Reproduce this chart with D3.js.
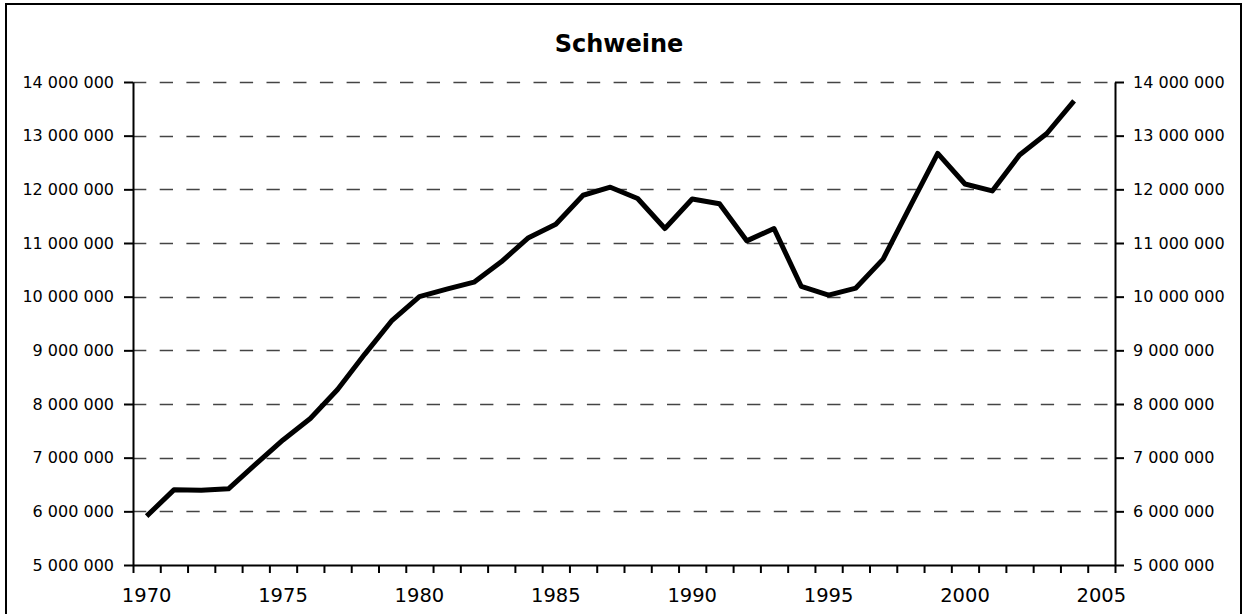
<!DOCTYPE html>
<html>
<head>
<meta charset="utf-8">
<script src="https://cdn.jsdelivr.net/npm/d3@7"></script>
<style>
  html, body { margin: 0; padding: 0; background: #fff; }
  svg { display: block; font-family: "DejaVu Sans", sans-serif; }
</style>
</head>
<body>
<div id="chart"></div>
<script>
// categories on the x axis (one band per year, last one has no value)
const years = [1970, 1971, 1972, 1973, 1974, 1975, 1976, 1977, 1978, 1979,
               1980, 1981, 1982, 1983, 1984, 1985, 1986, 1987, 1988, 1989,
               1990, 1991, 1992, 1993, 1994, 1995, 1996, 1997, 1998, 1999,
               2000, 2001, 2002, 2003, 2004, 2005];

// Schweine, values (1970-2004)
const pigs = [5910000, 6400000, 6395000, 6420000, 6880000, 7330000, 7730000, 8270000, 8930000, 9560000,
              10000000, 10140000, 10270000, 10650000, 11100000, 11350000, 11890000, 12040000, 11830000, 11270000,
              11820000, 11730000, 11040000, 11270000, 10190000, 10030000, 10160000, 10700000, 11690000, 12670000,
              12100000, 11970000, 12640000, 13040000, 13650000];

const yTicks = [5000000, 6000000, 7000000, 8000000, 9000000, 10000000, 11000000, 12000000, 13000000, 14000000];
const xLabels = [1970, 1975, 1980, 1985, 1990, 1995, 2000, 2005];

const width = 1247, height = 614;
const plot = { left: 133, right: 1115, top: 82, bottom: 565 };

const svg = d3.select('#chart').append('svg')
    .attr('width', width)
    .attr('height', height);

// outer frame
svg.append('rect')
    .attr('x', 6).attr('y', 4)
    .attr('width', 1235).attr('height', 640)
    .attr('fill', '#fff')
    .attr('stroke', '#000')
    .attr('stroke-width', 2);

svg.append('text')
    .attr('x', 619).attr('y', 52)
    .attr('text-anchor', 'middle')
    .attr('font-size', 24)
    .attr('font-weight', 'bold')
    .text('Schweine');

const x = d3.scaleBand().domain(years).range([plot.left, plot.right]).padding(0);
const xEdge = d3.scaleLinear().domain([0, years.length]).range([plot.left, plot.right]);
const y = d3.scaleLinear().domain([5000000, 14000000]).range([plot.bottom, plot.top]);

const locale = d3.formatLocale({ decimal: ',', thousands: ' ', grouping: [3], currency: ['', ''] });
const fmt = locale.format(',d');

// dashed gridlines
svg.append('g')
    .selectAll('line')
    .data(yTicks.slice(1))
    .join('line')
    .attr('x1', plot.left).attr('x2', plot.right)
    .attr('y1', d => Math.round(y(d)) + 0.5)
    .attr('y2', d => Math.round(y(d)) + 0.5)
    .attr('stroke', '#444')
    .attr('stroke-width', 1.3)
    .attr('stroke-dasharray', '13.3,13.4');

// y axes, left and right
const yLeft = svg.append('g')
    .attr('transform', `translate(${plot.left},0)`)
    .call(d3.axisLeft(y).tickValues(yTicks).tickFormat(fmt).tickSize(9).tickPadding(10).tickSizeOuter(0));

const yRight = svg.append('g')
    .attr('transform', `translate(${plot.right},0)`)
    .call(d3.axisRight(y).tickValues(yTicks).tickFormat(fmt).tickSize(9).tickPadding(9).tickSizeOuter(0));

[yLeft, yRight].forEach(g => {
    g.select('.domain').attr('stroke', '#000').attr('stroke-width', 2);
    g.selectAll('.tick line').attr('stroke', '#000').attr('stroke-width', 2);
    g.selectAll('.tick text')
        .attr('fill', '#000')
        .attr('font-size', 16)
        .attr('font-family', '"DejaVu Sans", sans-serif');
});

// x axis: ticks on band edges, labels on band centres
const xTicks = svg.append('g')
    .attr('transform', `translate(0,${plot.bottom})`)
    .call(d3.axisBottom(xEdge).tickValues(d3.range(years.length + 1)).tickFormat('').tickSize(8).tickSizeOuter(0));
xTicks.select('.domain').attr('stroke', '#000').attr('stroke-width', 2);
xTicks.selectAll('.tick line').attr('stroke', '#000').attr('stroke-width', 2);

const xLab = svg.append('g')
    .attr('transform', `translate(0,${plot.bottom})`)
    .call(d3.axisBottom(x).tickValues(xLabels).tickSize(0).tickPadding(23));
xLab.select('.domain').remove();
xLab.selectAll('.tick text')
    .attr('fill', '#000')
    .attr('font-size', 19.5)
    .attr('font-family', '"DejaVu Sans", sans-serif');

// the line
const line = d3.line()
    .x((d, i) => x(years[i]) + x.bandwidth() / 2)
    .y(d => y(d));

svg.append('path')
    .datum(pigs)
    .attr('d', line)
    .attr('fill', 'none')
    .attr('stroke', '#000')
    .attr('stroke-width', 5)
    .attr('stroke-linejoin', 'round');
</script>
</body>
</html>
